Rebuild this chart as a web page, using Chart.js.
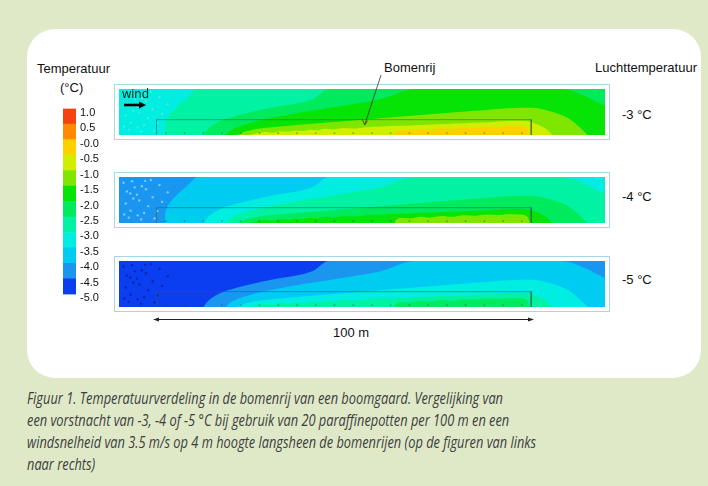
<!DOCTYPE html>
<html>
<head>
<meta charset="utf-8">
<script src="https://cdn.jsdelivr.net/npm/chart.js@4.4.1/dist/chart.umd.min.js"></script>
<style>
html, body { margin: 0; padding: 0; }
body { width: 708px; height: 486px; background: #dfe9c8; position: relative; overflow: hidden;
       font-family: 'Liberation Sans', Arial, sans-serif; }
#card { position: absolute; left: 27px; top: 29px; width: 674px; height: 349px; background: #fff; border-radius: 28px; }
.lbl { position: absolute; z-index: 2; font-size: 13px; line-height: 13px; color: #111; white-space: nowrap; transform: translateY(-50%); }
canvas { position: absolute; }
.panel { box-shadow: 0 0 0 1px rgba(160, 210, 220, 0.9); }
#caption { position: absolute; left: 27px; top: 387px; font-family: 'Open Sans', sans-serif; font-style: italic;
           font-size: 16px; line-height: 22px; color: #3d3d3d; white-space: nowrap; transform-origin: 0 0; }
#caption span { display: inline-block; }
svg { position: absolute; left: 0; top: 0; z-index: 2; }
</style>
</head>
<body>
<div id="card"></div>

<canvas id="cb" width="46" height="207" style="left:63px; top:98px;"></canvas>
<canvas id="p0" class="panel" width="494" height="54" style="left:115px; top:85px;"></canvas>
<canvas id="p1" class="panel" width="494" height="54" style="left:115px; top:173px;"></canvas>
<canvas id="p2" class="panel" width="494" height="54" style="left:115px; top:257px;"></canvas>

<div class="lbl" style="left:37px; top:68px;">Temperatuur</div>
<div class="lbl" style="left:60px; top:87px;">(°C)</div>
<div class="lbl" style="left:384px; top:67px;">Bomenrij</div>
<div class="lbl" style="right:11px; top:67px;">Luchttemperatuur</div>
<div class="lbl" id="air0" style="left:622px; top:114px;"></div>
<div class="lbl" id="air1" style="left:622px; top:196px;"></div>
<div class="lbl" id="air2" style="left:622px; top:279px;"></div>
<div class="lbl" style="left:333px; top:332px;">100 m</div>
<div class="lbl" style="left:122px; top:93px; font-family:'Open Sans',sans-serif; font-size:12px;">wind</div>

<svg width="708" height="486">
  <line x1="124" y1="105" x2="140" y2="105" stroke="#000" stroke-width="2.6"/>
  <polygon points="139,101.5 146,105 139,108.5" fill="#000"/>
  <line x1="381" y1="75" x2="365" y2="124" stroke="#333" stroke-width="0.8"/>
  <polyline points="362.4,119.3 364.7,125 367.6,120.7" fill="none" stroke="#333" stroke-width="0.8"/>
  <line x1="156" y1="319.5" x2="531" y2="319.5" stroke="#222" stroke-width="1"/>
  <polygon points="153,319.5 159,317.5 159,321.5" fill="#222"/>
  <polygon points="534,319.5 528,317.5 528,321.5" fill="#222"/>
</svg>

<div id="caption"><span id="cap1">Figuur 1. Temperatuurverdeling in de bomenrij van een boomgaard. Vergelijking van</span><br>een vorstnacht van -3, -4 of -5 °C bij gebruik van 20 paraffinepotten per 100 m en een<br>windsnelheid van 3.5 m/s op 4 m hoogte langsheen de bomenrijen (op de figuren van links<br>naar rechts)</div>

<script>
// air temperature of each panel (top to bottom)
const airTemps = [-3, -4, -5];
const airLabels = ['-3 °C', '-4 °C', '-5 °C'];

// colour scale: band boundaries and labels
const cbLevels = [-5, -4.5, -4, -3.5, -3, -2.5, -2, -1.5, -1, -0.5, 0, 0.5, 1];
const cbLabels = ['-5.0', '-4.5', '-4.0', '-3.5', '-3.0', '-2.5', '-2.0', '-1.5', '-1.0', '-0.5', '-0.0', '0.5', '1.0'];
const bandColors = ['#0b3ef0', '#1a96f0', '#00ccf2', '#00eee2', '#00f2a2', '#00ea5e',
                    '#06e406', '#7ee600', '#d0ee00', '#ffd000', '#ff8a00', '#f5420e'];

// warming above air temperature for each contour (°C)
const riseSteps = [0, 0.5, 1.0, 1.5, 2.0, 2.5];

// contour edges [distance m, height m]; region below the edge is warmer
const edge00 = [[2.2, 0], [2.3, 2], [2.8, 4], [4.2, 6], [6.2, 8], [8.5, 10], [11, 12], [119.7, 12]];
const edge05 = [[12.5, 0], [13.2, 1], [15.5, 2.9], [21.6, 5.1], [31, 7.2], [41.7, 9.4], [46, 12], [119.7, 12]];
const edge10 = [[18.5, 0], [19.2, 0.8], [24, 2.9], [34, 5.1], [47, 7.2], [60, 9.4], [69, 12], [108, 12],
                [111, 11.5], [114, 10.3], [117, 8.9], [119.7, 7.6]];
const edge15 = [[21.5, 0], [24, 1], [33, 2.2], [50, 3.6], [68, 5], [85, 6.3], [94, 7], [100, 7.1],
                [105, 6.2], [110, 4.3], [113.5, 1.5], [115, 0]];
const edge20 = [[25, 0], [27, 0.5], [29, 0.8], [31, 0.6], [33, 1.0], [35, 0.85], [37, 1.2], [39, 1.05],
                [41, 1.4], [43, 1.25], [45, 1.6], [47, 1.45], [50, 1.8], [53, 1.7], [56, 2.0], [60, 2.2],
                [65, 2.4], [70, 2.6], [75, 2.8], [80, 3.0], [85, 3.2], [90, 3.4], [95, 3.7], [99, 3.6],
                [102, 2.6], [104.5, 1.2], [105.6, 0]];
const edge25 = [[63.5, 0], [64, 0.9], [65.5, 1.3], [68, 1.2], [70.5, 1.6], [73, 1.4], [76, 1.8], [79, 1.6],
                [82, 2.0], [85, 1.9], [88, 2.2], [91, 2.1], [94, 2.3], [97, 2.2], [99, 1.6], [99.7, 0]];
const edges = [edge00, edge05, edge10, edge15, edge20, edge25];

// tree row outline and paraffin pots
const rowBox = [[0, 0], [0, 4], [100, 4], [100, 0]];
const potX = [2.5, 7.5, 12.5, 17.5, 22.5, 27.5, 32.5, 37.5, 42.5, 47.5, 52.5, 57.5, 62.5, 67.5, 72.5, 77.5, 82.5, 87.5, 92.5, 97.5];

// speckles in the inflow zone
const speckX = [-8.8, -7.9, -6.5, -5.2, -3.9, -8.2, -6.9, -4.6, -2.8, -1.5, -7.4, -5.8, -3.3, -1.0, 0.8,
                -8.6, -6.2, -4.1, -2.2, 0.2, -7.0, -5.0, -3.0, 1.5, 3.0, -0.5];
const speckH = [10.5, 8.2, 10.9, 7.4, 9.6, 5.1, 3.2, 5.9, 8.8, 11.2, 1.4, 9.3, 2.6, 6.7, 9.9,
                2.2, 6.4, 0.9, 4.4, 3.1, 7.7, 2.0, 11.0, 5.5, 8.0, 1.2];
const speckColors = ['rgba(90,235,215,0.7)', 'rgba(125,205,250,0.95)', 'rgba(10,30,150,0.75)'];

function bandColor(t) {
  let i = Math.floor((t + 5) / 0.5);
  i = Math.max(0, Math.min(bandColors.length - 1, i));
  return bandColors[i];
}
const toPts = arr => arr.map(([x, y]) => ({x: x, y: y}));

// colour bar
new Chart(document.getElementById('cb'), {
  type: 'bar',
  data: {
    labels: ['T'],
    datasets: bandColors.map((c, i) => ({
      data: [[cbLevels[i], cbLevels[i + 1]]],
      backgroundColor: c,
      borderWidth: 0,
      grouped: false,
      barPercentage: 1,
      categoryPercentage: 1
    }))
  },
  options: {
    responsive: false,
    animation: false,
    layout: { padding: { top: 10, bottom: 10, left: 0, right: 0 } },
    plugins: { legend: { display: false }, tooltip: { enabled: false } },
    scales: {
      x: { display: false },
      y: {
        position: 'right',
        min: -5, max: 1,
        grid: { display: false, drawTicks: false },
        border: { display: false },
        afterFit: (scale) => { scale.width = 33; },
        ticks: {
          stepSize: 0.5,
          autoSkip: false,
          padding: 4,
          labelOffset: 4,
          color: '#111',
          font: { family: "'Liberation Sans', Arial, sans-serif", size: 11 },
          callback: (v, i) => cbLabels[i]
        }
      }
    }
  }
});

// temperature panels
airTemps.forEach((airT, p) => {
  document.getElementById('air' + p).textContent = airLabels[p];
  const datasets = [{
    data: toPts([[-10, 12], [119.7, 12]]),
    fill: 'start',
    backgroundColor: bandColor(airT - 0.25),
    borderWidth: 0,
    pointRadius: 0,
    order: 100
  }];
  edges.forEach((edge, k) => {
    datasets.push({
      data: toPts(edge),
      fill: 'start',
      backgroundColor: bandColor(airT + riseSteps[k] + 0.25),
      borderWidth: 0,
      pointRadius: 0,
      cubicInterpolationMode: 'monotone',
      order: 50 - k
    });
  });
  datasets.push({
    data: speckX.map((x, i) => ({x: x, y: speckH[i]})),
    showLine: false,
    pointRadius: 1.2,
    pointBorderWidth: 0,
    pointBackgroundColor: speckColors[p],
    order: 3
  });
  datasets.push({
    data: toPts(rowBox),
    fill: false,
    borderColor: 'rgba(60,90,80,0.55)',
    borderWidth: 1,
    pointRadius: 0,
    order: 2
  });
  datasets.push({
    data: potX.map(x => ({x: x, y: 0.5})),
    showLine: false,
    pointRadius: 0.9,
    pointBorderWidth: 0,
    pointBackgroundColor: 'rgba(40,60,40,0.45)',
    order: 1
  });

  new Chart(document.getElementById('p' + p), {
    type: 'line',
    data: { datasets: datasets },
    options: {
      responsive: false,
      animation: false,
      layout: { padding: 0 },
      plugins: { legend: { display: false }, tooltip: { enabled: false } },
      scales: {
        x: { type: 'linear', min: -10, max: 119.7, display: false },
        y: { type: 'linear', min: 0, max: 12, display: false }
      }
    }
  });
});

// squeeze the caption to the width of the original lines
const cap = document.getElementById('caption');
const w1 = document.getElementById('cap1').getBoundingClientRect().width;
cap.style.transform = 'scaleX(' + (476 / w1) + ')';
</script>
</body>
</html>
